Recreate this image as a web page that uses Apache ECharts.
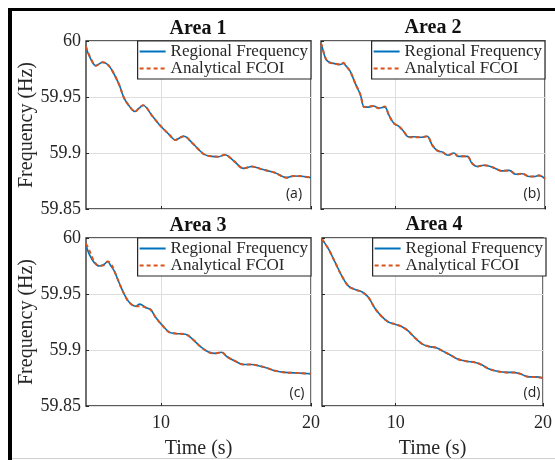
<!DOCTYPE html>
<html>
<head>
<meta charset="utf-8">
<script src="https://cdn.jsdelivr.net/npm/echarts@6/dist/echarts.min.js"></script>
<style>
html,body{margin:0;padding:0;background:#fff;overflow:hidden;}
#c{width:555px;height:460px;}
</style>
</head>
<body>
<div id="c"></div>
<script>
// ---- Data ----
const panelTitles = ['Area 1', 'Area 2', 'Area 3', 'Area 4'];
const panelTags = ['(a)', '(b)', '(c)', '(d)'];
const seriesNames = ['Regional Frequency', 'Analytical FCOI'];
const xTickValues = [10, 20];
const yTickLabels = ['59.85', '59.9', '59.95', '60'];

const time1 = [5, 5.33, 5.66, 6.1, 6.44, 6.77, 7.21, 7.54, 7.88, 8.27, 8.54, 8.8, 9.42, 9.91, 10.53, 10.97, 11.26, 11.53, 12.08, 12.85, 13.4, 13.85, 14.25, 14.85, 15.5, 16.06, 16.73, 17.6, 18.38, 18.83, 19.38, 20];
const regional1 = [59.994, 59.9836, 59.978, 59.981, 59.979, 59.973, 59.961, 59.949, 59.942, 59.937, 59.940, 59.9426, 59.933, 59.925, 59.9167, 59.9116, 59.9137, 59.915, 59.909, 59.899, 59.897, 59.8967, 59.8985, 59.893, 59.8863, 59.888, 59.8854, 59.8824, 59.878, 59.8795, 59.8792, 59.878];
const fcoi1 = [59.995, 59.984, 59.978, 59.981, 59.979, 59.973, 59.961, 59.949, 59.942, 59.937, 59.940, 59.9426, 59.933, 59.925, 59.9167, 59.9116, 59.9137, 59.915, 59.909, 59.899, 59.897, 59.8967, 59.8985, 59.893, 59.8863, 59.888, 59.8854, 59.8824, 59.878, 59.8795, 59.8792, 59.878];

const time2 = [5, 5.07, 5.3, 5.5, 5.85, 6.3, 6.5, 6.66, 6.95, 7.3, 7.64, 7.9, 8.2, 8.53, 8.87, 9.27, 9.54, 9.88, 10.2, 10.55, 10.84, 11.2, 11.67, 12.1, 12.45, 12.8, 13.1, 13.5, 13.9, 14.2, 14.8, 15.1, 15.45, 15.9, 16.35, 16.7, 17.1, 17.6, 18.05, 18.5, 18.94, 19.27, 19.6, 20];
const regional2 = [59.998, 59.995, 59.9845, 59.9815, 59.980, 59.979, 59.980, 59.978, 59.973, 59.962, 59.952, 59.941, 59.941, 59.942, 59.940, 59.941, 59.934, 59.9265, 59.924, 59.919, 59.9145, 59.9145, 59.914, 59.915, 59.907, 59.902, 59.901, 59.898, 59.900, 59.897, 59.897, 59.891, 59.888, 59.889, 59.888, 59.886, 59.884, 59.8845, 59.881, 59.8815, 59.879, 59.879, 59.880, 59.877];
const fcoi2 = [59.998, 59.995, 59.985, 59.981, 59.980, 59.979, 59.9805, 59.978, 59.973, 59.962, 59.952, 59.941, 59.9415, 59.942, 59.940, 59.9415, 59.934, 59.9265, 59.924, 59.919, 59.9145, 59.914, 59.914, 59.915, 59.907, 59.902, 59.901, 59.898, 59.900, 59.897, 59.897, 59.891, 59.888, 59.889, 59.888, 59.886, 59.884, 59.8845, 59.881, 59.8815, 59.879, 59.879, 59.880, 59.877];

const time3 = [5, 5.22, 5.55, 5.88, 6.22, 6.44, 6.66, 6.88, 7.21, 7.54, 7.88, 8.32, 8.58, 8.98, 9.31, 9.65, 10.09, 10.53, 10.97, 11.64, 12.08, 12.63, 13.19, 13.63, 14.03, 14.4, 14.96, 15.5, 16.06, 16.5, 17.06, 17.6, 18.27, 19.16, 20];
const regional3 = [59.9935, 59.9853, 59.978, 59.975, 59.9765, 59.979, 59.975, 59.9706, 59.960, 59.950, 59.9426, 59.939, 59.941, 59.938, 59.936, 59.929, 59.922, 59.916, 59.9147, 59.914, 59.910, 59.903, 59.898, 59.897, 59.898, 59.894, 59.890, 59.887, 59.887, 59.886, 59.884, 59.8815, 59.880, 59.8794, 59.8788];
const fcoi3 = [59.995, 59.989, 59.979, 59.975, 59.976, 59.979, 59.977, 59.971, 59.960, 59.950, 59.9426, 59.939, 59.939, 59.938, 59.936, 59.929, 59.922, 59.916, 59.9147, 59.914, 59.910, 59.903, 59.898, 59.897, 59.898, 59.894, 59.890, 59.887, 59.887, 59.886, 59.884, 59.8815, 59.880, 59.8794, 59.8788];

const time4 = [5, 5.45, 5.9, 6.35, 6.8, 7.25, 7.7, 8.15, 8.6, 9.05, 9.5, 9.95, 10.4, 10.85, 11.3, 11.85, 12.3, 12.75, 13.2, 13.65, 14.2, 14.8, 15.35, 15.8, 16.35, 16.9, 17.5, 17.9, 18.4, 19.05, 19.5, 20];
const regional4 = [59.999, 59.990, 59.978, 59.966, 59.957, 59.954, 59.952, 59.947, 59.937, 59.930, 59.925, 59.923, 59.921, 59.917, 59.911, 59.905, 59.903, 59.902, 59.899, 59.896, 59.892, 59.890, 59.889, 59.887, 59.883, 59.881, 59.880, 59.880, 59.879, 59.876, 59.876, 59.875];
const fcoi4 = [59.999, 59.990, 59.978, 59.966, 59.957, 59.954, 59.952, 59.947, 59.937, 59.930, 59.925, 59.923, 59.921, 59.917, 59.911, 59.905, 59.903, 59.902, 59.899, 59.896, 59.892, 59.890, 59.889, 59.887, 59.883, 59.881, 59.880, 59.880, 59.879, 59.876, 59.876, 59.875];

const panelTimes = [time1, time2, time3, time4];
const panelRegional = [regional1, regional2, regional3, regional4];
const panelFcoi = [fcoi1, fcoi2, fcoi3, fcoi4];

// ---- Layout ----
const grids = [
  {left: 86, top: 41, width: 225, height: 168},
  {left: 321, top: 41, width: 224, height: 168},
  {left: 86, top: 238, width: 225, height: 168},
  {left: 322, top: 238, width: 224, height: 168}
];
const SERIF = '"Liberation Serif", "Times New Roman", serif';
const TXT = '#262626';
const BLUE = '#0072BD';
const ORANGE = '#D95319';

function pairs(t, v) { return t.map((x, i) => [x, v[i]]); }

const option = {
  animation: false,
  backgroundColor: '#fff',
  grid: grids.map(g => Object.assign({show: true, borderColor: '#262626', borderWidth: 1.3, backgroundColor: 'transparent', containLabel: false}, g)),
  xAxis: grids.map((g, i) => ({
    type: 'value', gridIndex: i, min: 5, max: 20, interval: 5,
    axisLine: {show: false},
    axisTick: {show: true, inside: true, length: 3, customValues: xTickValues, lineStyle: {color: '#262626'}},
    axisLabel: {show: i >= 2, customValues: xTickValues, fontFamily: SERIF, fontSize: 18, color: TXT, margin: 8},
    splitLine: {show: true, lineStyle: {color: '#dedede', width: 1}},
    name: i >= 2 ? 'Time (s)' : '',
    nameLocation: 'middle', nameGap: 33,
    nameTextStyle: {fontFamily: SERIF, fontSize: 20, color: TXT}
  })),
  yAxis: grids.map((g, i) => ({
    type: 'value', gridIndex: i, min: 59.85, max: 60, interval: 0.05,
    axisLine: {show: false},
    axisTick: {show: true, inside: true, length: 3, lineStyle: {color: '#262626'}},
    axisLabel: {show: i % 2 === 0, fontFamily: SERIF, fontSize: 18, color: TXT, margin: 5,
      formatter: v => yTickLabels.find(s => Math.abs(parseFloat(s) - v) < 1e-6) || ''},
    splitLine: {show: true, lineStyle: {color: '#dedede', width: 1}},
    name: i % 2 === 0 ? 'Frequency (Hz)' : '',
    nameLocation: 'middle', nameGap: 48,
    nameTextStyle: {fontFamily: SERIF, fontSize: 20, color: TXT}
  })),
  legend: grids.map((g, i) => ({
    orient: 'vertical',
    right: 555 - (g.left + g.width),
    top: g.top,
    itemWidth: 26, itemHeight: 18, itemGap: 0,
    padding: [2, 3, 2, 1],
    borderColor: '#262626', borderWidth: 1.2, borderRadius: 0,
    backgroundColor: '#fff',
    selectedMode: false,
    itemStyle: {opacity: 0},
    textStyle: {fontFamily: SERIF, fontSize: 17, color: TXT},
    data: seriesNames
  })),
  series: [],
  graphic: []
};

for (let i = 0; i < 4; i++) {
  option.series.push({
    name: seriesNames[0], type: 'line', xAxisIndex: i, yAxisIndex: i,
    data: pairs(panelTimes[i], panelRegional[i]), symbol: 'none', smooth: 0.35,
    lineStyle: {color: BLUE, width: 1.6}, itemStyle: {color: BLUE}, z: 2
  });
  option.series.push({
    name: seriesNames[1], type: 'line', xAxisIndex: i, yAxisIndex: i,
    data: pairs(panelTimes[i], panelFcoi[i]), symbol: 'none', smooth: 0.35,
    lineStyle: {color: ORANGE, width: 2, type: [4, 3]}, itemStyle: {color: ORANGE}, z: 3
  });
}

// Titles and panel tags
const titlePos = [[198, 29], [433, 28], [198, 226], [434, 225]];
const tagPos = [[294, 194], [532, 194], [297, 393], [532, 393]];
for (let i = 0; i < 4; i++) {
  option.graphic.push({type: 'text', x: titlePos[i][0], y: titlePos[i][1], z: 10,
    style: {text: panelTitles[i], fontFamily: SERIF, fontWeight: 'bold', fontSize: 20, fill: '#111', align: 'center', verticalAlign: 'middle'}});
  option.graphic.push({type: 'text', x: tagPos[i][0], y: tagPos[i][1], z: 10,
    style: {text: panelTags[i], fontFamily: '"Open Sans", sans-serif', fontSize: 14, fill: '#222', align: 'center', verticalAlign: 'middle'}});
}
// Frame
option.graphic.push({type: 'rect', shape: {x: 8, y: 8, width: 560, height: 3}, style: {fill: '#000'}, z: 20, silent: true});
option.graphic.push({type: 'rect', shape: {x: 8, y: 8, width: 4, height: 460}, style: {fill: '#000'}, z: 20, silent: true});
option.graphic.push({type: 'rect', shape: {x: 12, y: 458, width: 560, height: 1}, style: {fill: '#cfcfcf'}, z: 20, silent: true});

const chart = echarts.init(document.getElementById('c'), null, {renderer: 'canvas'});
chart.setOption(option);
</script>
</body>
</html>
